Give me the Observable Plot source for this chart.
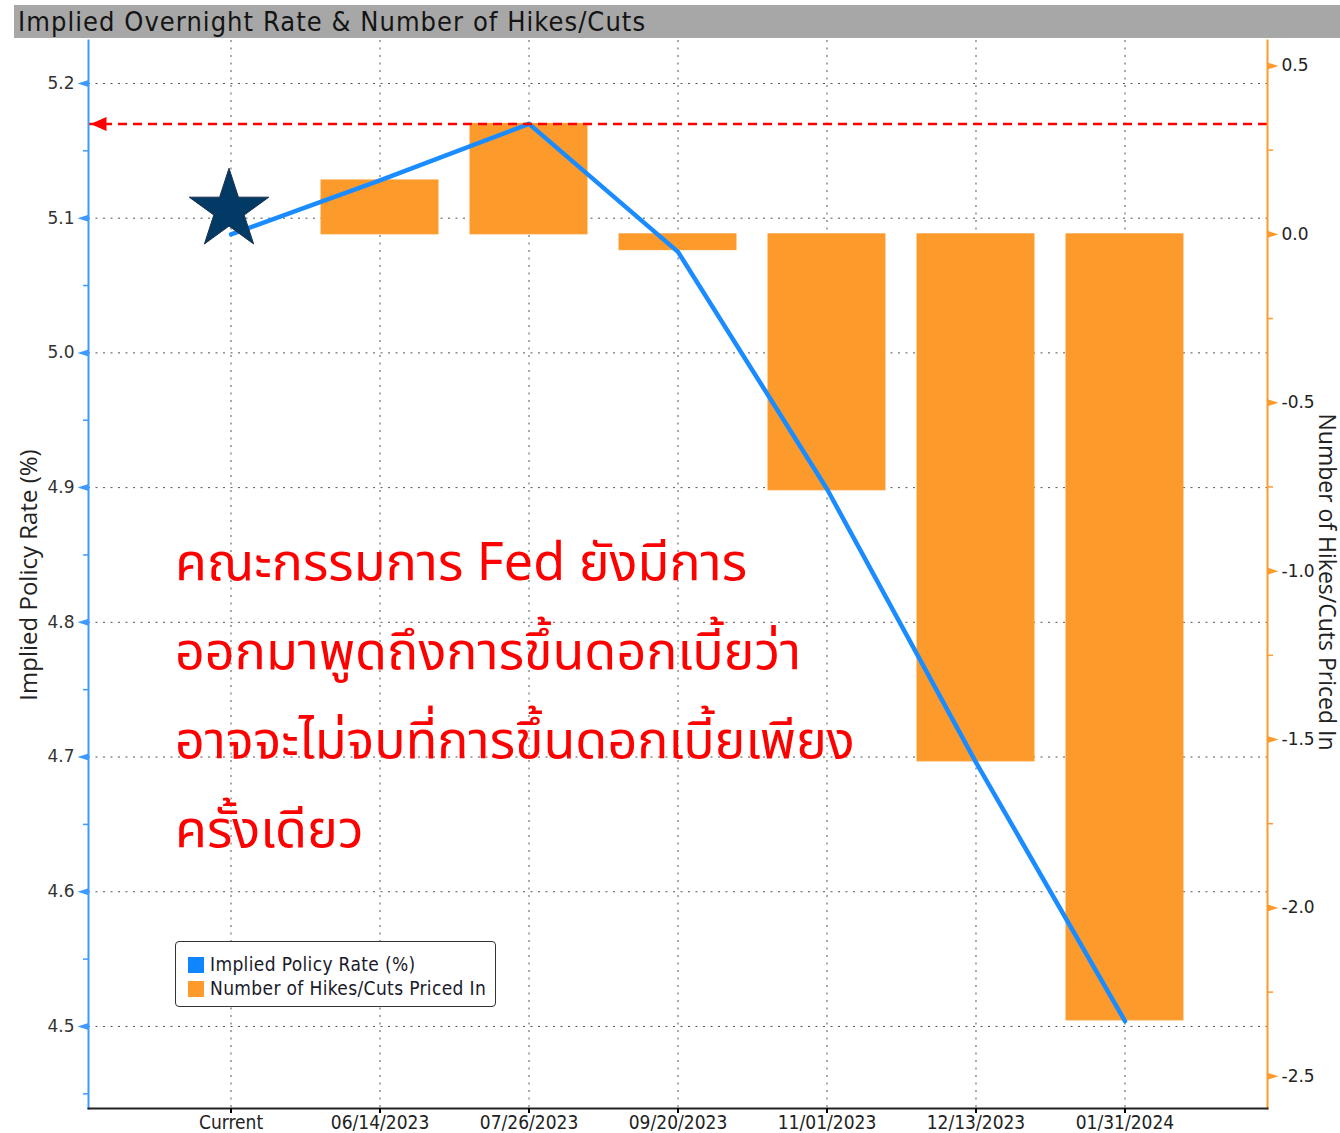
<!DOCTYPE html>
<html>
<head>
<meta charset="utf-8">
<script src="https://cdn.jsdelivr.net/npm/d3@7"></script>
<script src="https://cdn.jsdelivr.net/npm/@observablehq/plot@0.6"></script>
<style>
  html, body { margin: 0; padding: 0; background: #fff; }
  body { width: 1340px; height: 1133px; overflow: hidden; position: relative; }
  #titlebar { position: relative; height: 40px; }
  #titlebar .bar { position: absolute; left: 14px; top: 5px; right: 0; height: 33px; background: #a7a7a7; }
  #titlebar .txt { position: absolute; left: 18px; top: 5px; font: 27px "DejaVu Sans Condensed", "Liberation Sans Narrow", sans-serif; letter-spacing: 1.05px; color: #141414; white-space: nowrap; line-height: 33px; }
  .ytitle { position: absolute; font: 24px "Open Sans", sans-serif; color: #222; white-space: nowrap; line-height: 24px; writing-mode: vertical-rl; }
  #rtitle { font-size: 23px; line-height: 23px; }
  #legend { position: absolute; left: 175px; top: 941px; width: 319px; height: 64px; border: 1.5px solid #333; border-radius: 4px; background: #fff; font: 19px "DejaVu Sans Condensed", "Liberation Sans Narrow", sans-serif; letter-spacing: 0.35px; color: #1a1a2a; }
  #legend .row { position: absolute; left: 12px; height: 22px; line-height: 22px; white-space: nowrap; }
  #legend .sw { display: inline-block; width: 16px; height: 16px; vertical-align: -2px; margin-right: 6px; }
  #note { position: absolute; left: 175px; top: 0; font-family: "Noto Sans Thai", "Noto Sans Thai Looped", "Loma", "Garuda", "Norasi", "Tlwg Typo", sans-serif; font-size: 52px; color: #ff0000; white-space: nowrap; }
  #note div { position: absolute; left: 0; line-height: 60px; }
</style>
</head>
<body>
<div id="titlebar"><div class="bar"></div><div class="txt">Implied Overnight Rate &amp; Number of Hikes/Cuts</div></div>
<div id="chart"></div>
<div class="ytitle" id="ltitle">Implied Policy Rate (%)</div>
<div class="ytitle" id="rtitle">Number of Hikes/Cuts Priced In</div>
<div id="legend"></div>
<div id="note"></div>
<script>
// ---- data ----
const dates = ["Current", "06/14/2023", "07/26/2023", "09/20/2023", "11/01/2023", "12/13/2023", "01/31/2024"];
const rates = [5.088, 5.128, 5.170, 5.075, 4.899, 4.696, 4.504];      // Implied Policy Rate (%)
const hikes = [0, 0.16, 0.328, -0.047, -0.76, -1.565, -2.334];        // Number of Hikes/Cuts Priced In
const leftTicks = [4.5, 4.6, 4.7, 4.8, 4.9, 5.0, 5.1, 5.2];
const leftMinor = [4.45, 4.55, 4.65, 4.75, 4.85, 4.95, 5.05, 5.15];
const rightTicks = [0.5, 0.0, -0.5, -1.0, -1.5, -2.0, -2.5];
const rightMinor = [0.25, -0.25, -0.75, -1.25, -1.75, -2.25];
const starRate = 5.106;
const hikeStep = 0.25;          // one hike/cut = 25 bp
const yDomain = [4.4391, 5.2319];
const noteLines = ["คณะกรรมการ Fed ยังมีการ", "ออกมาพูดถึงการขึ้นดอกเบี้ยว่า", "อาจจะไม่จบที่การขึ้นดอกเบี้ยเพียง", "ครั้งเดียว"];
const legendItems = [{label: "Implied Policy Rate (%)", color: "#0f86ff"}, {label: "Number of Hikes/Cuts Priced In", color: "#fc9b2c"}];

// ---- helpers ----
const baseRate = rates[0];
const toRate = h => baseRate + h * hikeStep;
const table = dates.map((d, i) => ({date: d, rate: rates[i], hikes: hikes[i]}));
const BLUE = "#3d9bff", LINE = "#1a8cff", ORANGE = "#fc9b2c", RED = "#ff0000";
const condensed = '"DejaVu Sans Condensed", "Liberation Sans Narrow", sans-serif';
const fmtR = r => { const h = Math.round((r - baseRate) / hikeStep * 10) / 10; return (h < 0 ? "-" : "") + Math.abs(h).toFixed(1); };
const leftTri = {draw(ctx) { ctx.moveTo(-11, 0); ctx.lineTo(0, -3.5); ctx.lineTo(0, 3.5); ctx.closePath(); }};
const rightTri = {draw(ctx) { ctx.moveTo(11, 0); ctx.lineTo(0, -3.5); ctx.lineTo(0, 3.5); ctx.closePath(); }};
const arrowHead = {draw(ctx) { ctx.moveTo(0, 0); ctx.lineTo(16, -7); ctx.lineTo(16, 7); ctx.closePath(); }};
const peak = d3.max(rates);

const chart = Plot.plot({
  width: 1340, height: 1093,
  marginTop: 0, marginBottom: 25, marginLeft: 88, marginRight: 73,
  style: {background: "transparent", fontFamily: '"DejaVu Sans", sans-serif', overflow: "visible"},
  x: {type: "band", domain: dates, paddingInner: 0.215, paddingOuter: 0.564, round: false, label: null},
  y: {domain: yDomain, label: null},
  marks: [
    Plot.gridY(leftTicks, {stroke: "#555", strokeOpacity: 1, strokeDasharray: "2,5.5"}),
    Plot.gridX(dates, {stroke: "#555", strokeOpacity: 1, strokeDasharray: "2,5.5"}),
    Plot.barY(table, {x: "date", y1: () => baseRate, y2: d => toRate(d.hikes), fill: ORANGE, stroke: ORANGE, strokeWidth: 1}),
    Plot.lineY(table, {x: "date", y: "rate", stroke: LINE, strokeWidth: 4.5}),
    Plot.dot([{date: dates[0], rate: starRate}], {x: "date", y: "rate", symbol: "star", r: 25, dx: -2, fill: "#023a66", stroke: "#1b2f4a", strokeWidth: 1}),
    Plot.ruleY([peak], {stroke: RED, strokeWidth: 2.5, strokeDasharray: "9,6"}),
    Plot.dot([peak], {y: d => d, frameAnchor: "left", symbol: arrowHead, fill: RED, stroke: "none", dx: 2}),
    // left axis
    Plot.frame({anchor: "left", stroke: BLUE, strokeWidth: 2}),
    Plot.axisY(leftMinor, {anchor: "left", tickSize: 5, stroke: BLUE, strokeWidth: 1.5, tickFormat: () => "", label: null}),
    Plot.axisY(leftTicks, {anchor: "left", tickSize: 0, tickPadding: 14, tickFormat: d3.format(".1f"), fontSize: 17, fill: "#333", label: null}),
    Plot.dot(leftTicks, {y: d => d, frameAnchor: "left", symbol: leftTri, fill: BLUE, stroke: "none"}),
    // right axis
    Plot.frame({anchor: "right", stroke: ORANGE, strokeWidth: 2}),
    Plot.axisY(rightMinor.map(toRate), {anchor: "right", tickSize: 5, stroke: ORANGE, strokeWidth: 1.5, tickFormat: () => "", label: null}),
    Plot.axisY(rightTicks.map(toRate), {anchor: "right", tickSize: 0, tickPadding: 14, tickFormat: fmtR, fontSize: 17, fill: "#222", label: null}),
    Plot.dot(rightTicks.map(toRate), {y: d => d, frameAnchor: "right", symbol: rightTri, fill: ORANGE, stroke: "none"}),
    // bottom axis
    Plot.frame({anchor: "bottom", stroke: "#222", strokeWidth: 2}),
    Plot.axisX({anchor: "bottom", tickSize: 5, tickPadding: 2, strokeWidth: 2, fontSize: 19, fontFamily: condensed, fill: "#222", label: null})
  ]
});
document.getElementById("chart").appendChild(chart);

// axis titles (vertical writing mode so the boxes stay vertical)
const lt = document.getElementById("ltitle");
lt.style.left = "28px"; lt.style.top = "575px"; lt.style.transform = "translate(-50%,-50%) rotate(180deg)";
const rt = document.getElementById("rtitle");
rt.style.left = "1327px"; rt.style.top = "582px"; rt.style.transform = "translate(-50%,-50%)";

// legend
const lg = document.getElementById("legend");
legendItems.forEach((it, i) => {
  const row = document.createElement("div");
  row.className = "row";
  row.style.top = (11 + i * 24) + "px";
  row.innerHTML = `<span class="sw" style="background:${it.color}"></span>${it.label}`;
  lg.appendChild(row);
});

// annotation
const note = document.getElementById("note");
noteLines.forEach((t, i) => {
  const d = document.createElement("div");
  d.textContent = t;
  d.style.top = (534 + i * 89) + "px";
  note.appendChild(d);
});
</script>
</body>
</html>
